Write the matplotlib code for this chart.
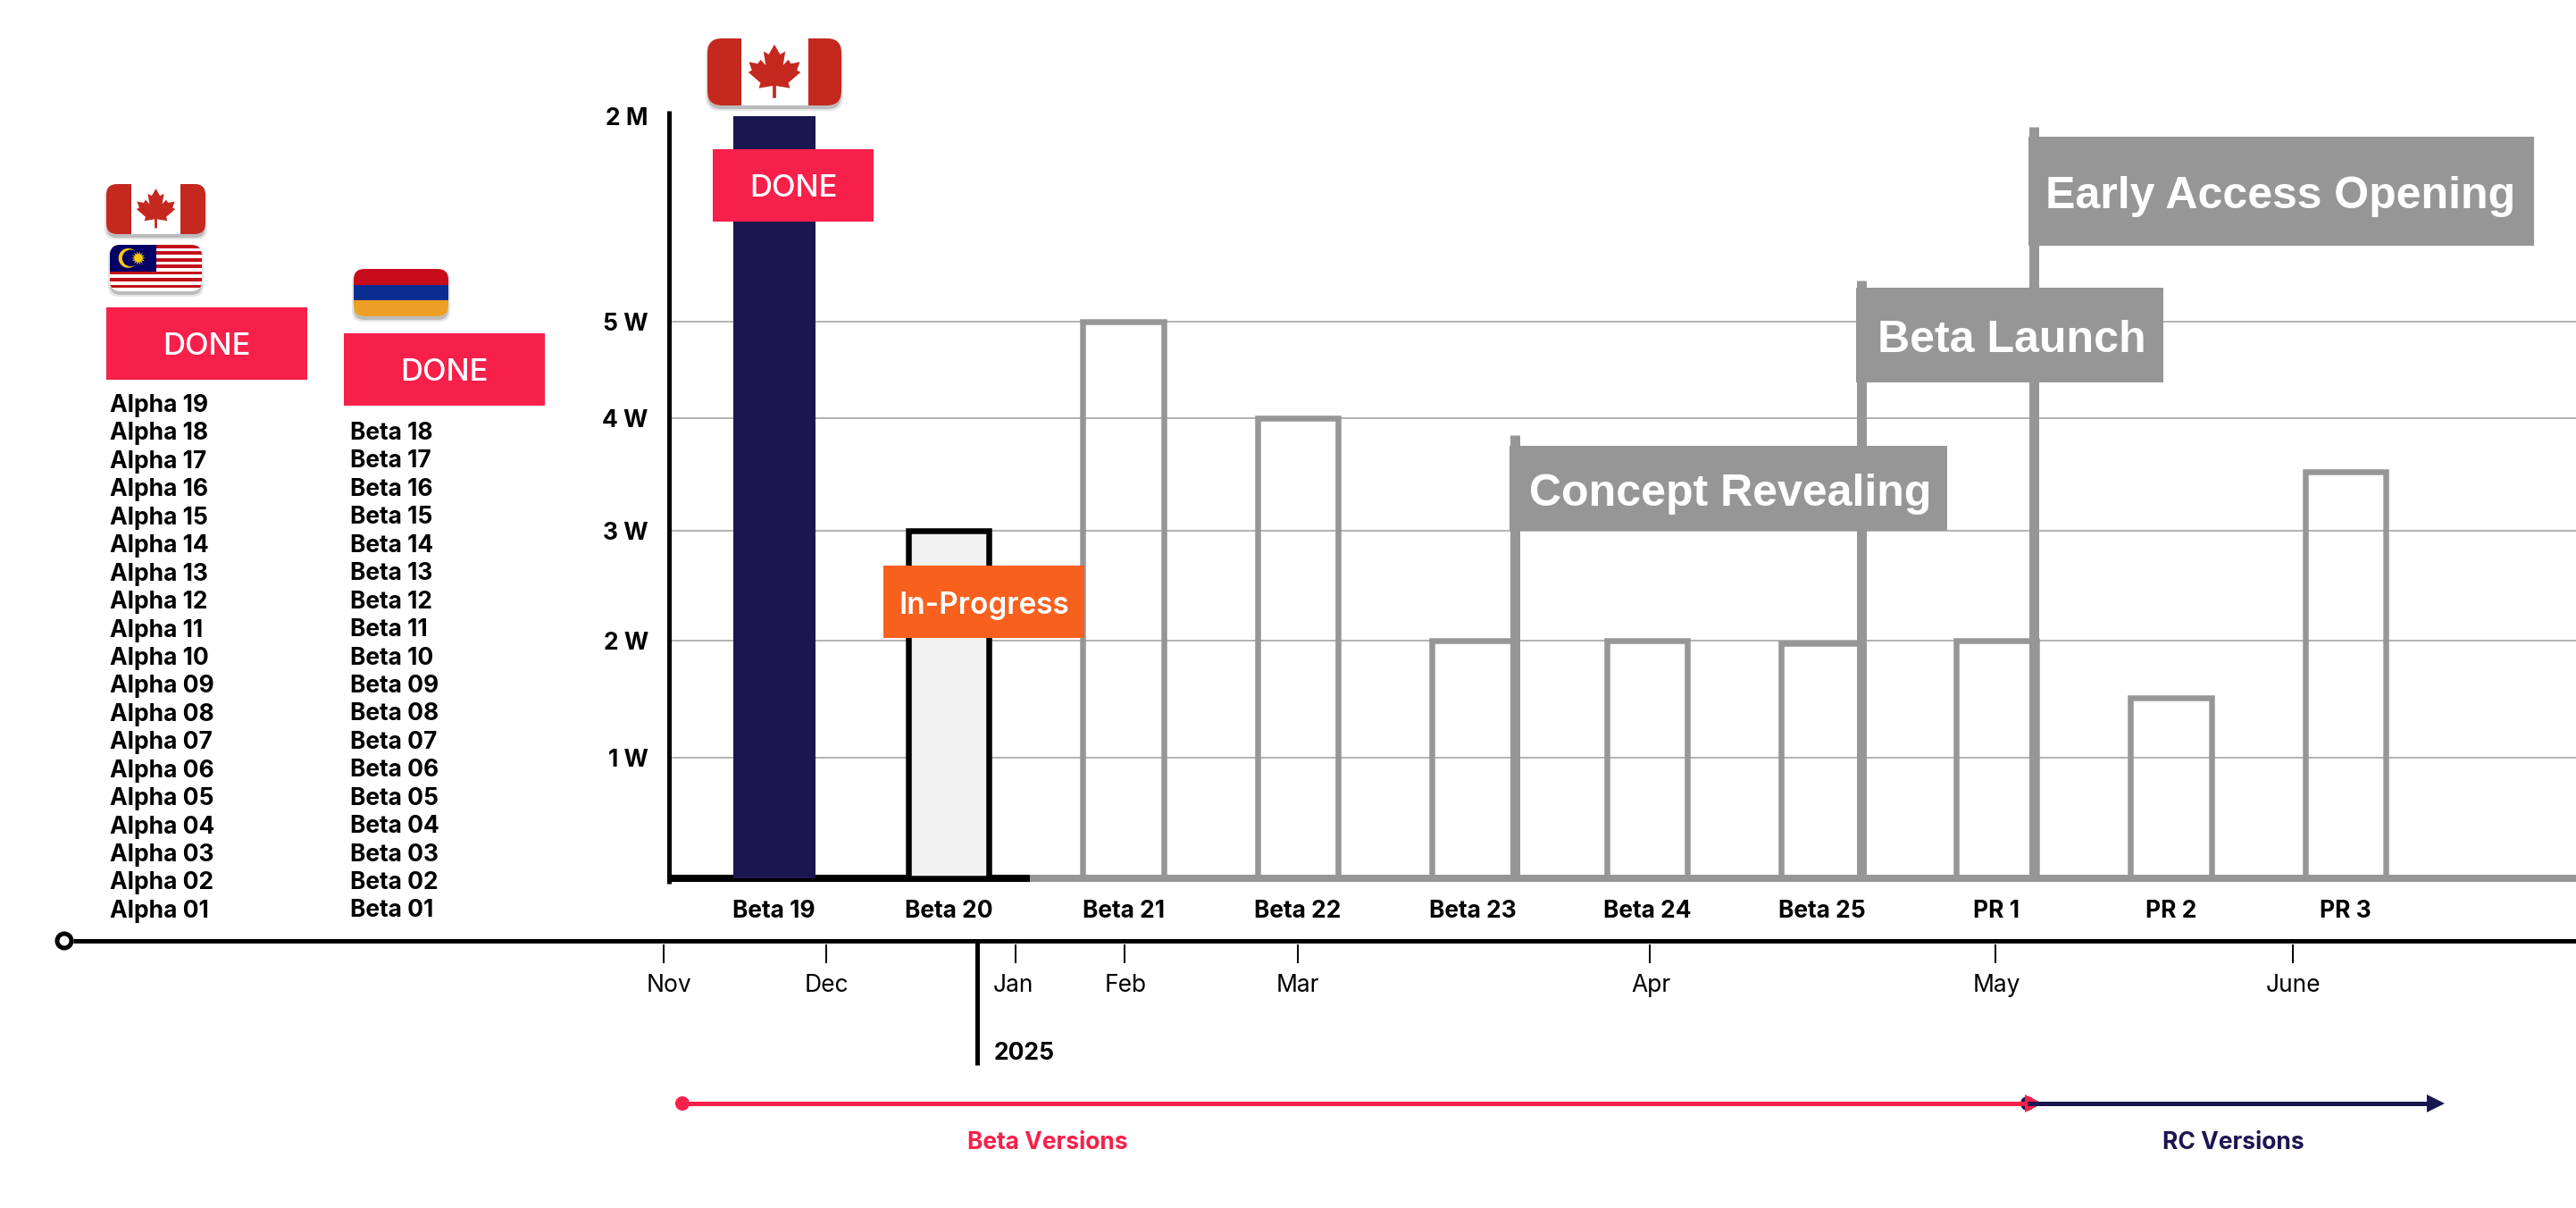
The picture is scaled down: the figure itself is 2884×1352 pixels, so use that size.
"""Release timeline: downloads per beta version with milestones."""

import matplotlib
matplotlib.use("Agg")  # non-interactive backend
import matplotlib.pyplot as plt
import numpy as np
from matplotlib.patches import Circle, FancyBboxPatch, Polygon, Rectangle

# ---------------------------------------------------------------------------
# Data
# ---------------------------------------------------------------------------

ALPHA_VERSIONS = [
    "Alpha 19", "Alpha 18", "Alpha 17", "Alpha 16", "Alpha 15", "Alpha 14", "Alpha 13",
    "Alpha 12", "Alpha 11", "Alpha 10", "Alpha 09", "Alpha 08", "Alpha 07", "Alpha 06",
    "Alpha 05", "Alpha 04", "Alpha 03", "Alpha 02", "Alpha 01",
]
BETA_VERSIONS = [
    "Beta 18", "Beta 17", "Beta 16", "Beta 15", "Beta 14", "Beta 13", "Beta 12", "Beta 11",
    "Beta 10", "Beta 09", "Beta 08", "Beta 07", "Beta 06", "Beta 05", "Beta 04", "Beta 03",
    "Beta 02", "Beta 01",
]
RELEASES = ["Beta 19", "Beta 20", "Beta 21", "Beta 22", "Beta 23", "Beta 24", "Beta 25",
            "PR 1", "PR 2", "PR 3"]
DOWNLOADS = [2000000, 30000, 50000, 40000, 20000, 20000, 19800, 20000, 15100, 35200]

Y_TICKS = [10000, 20000, 30000, 40000, 50000, 2000000]
Y_TICK_LABELS = ["1 W", "2 W", "3 W", "4 W", "5 W", "2 M"]

MONTHS = ["Nov", "Dec", "Jan", "Feb", "Mar", "Apr", "May", "June"]
MILESTONES = ["Concept Revealing", "Beta Launch", "Early Access Opening"]

# ---------------------------------------------------------------------------
# Layout and colours
# ---------------------------------------------------------------------------

W, H = 2884, 1352
DPI = 100
PT = 72 / DPI  # one pixel in points

BASE_Y = 983
AXIS_TOP = 124
Y_KNOTS_VALUE = [0] + Y_TICKS + [2100000]
Y_KNOTS_PX = [983, 848, 717, 594, 468, 360, 130, 124]

FIRST_BAR_X = 866.5
BAR_STEP = 195.5
BAR_W = 90.5

MONTH_TICK_X = [743, 925, 1137, 1259, 1453, 1847, 2234, 2567]
MONTH_LABEL_X = [749, 925, 1134, 1260, 1453, 1848, 2235, 2568]

POLE_X = [1695.5, 2084, 2276.5]
POLE_TOP = [487, 314, 142]
MILESTONE_BOX = [(1690, 499, 2180, 594), (2078, 322, 2422, 428), (2271, 153, 2837, 275)]
MILESTONE_TEXT_X = [1937, 2252, 2553]

RED = "#F6204A"
NAVY = "#1A1650"
ORANGE = "#F8601E"
GRAY = "#969696"
GRID = "#B4B4B4"
LIGHT = "#F2F2F2"
CANADA = "#C4281F"
FONT = "Inter"


# ---------------------------------------------------------------------------
# Flags
# ---------------------------------------------------------------------------

def flag_frame(ov, x0, y0, x1, y1, radius):
    """Draw shadow and return the rounded patch the flag parts are clipped to."""
    for grow, alpha in ((2, 0.10), (0, 0.18)):
        ov.add_patch(FancyBboxPatch((x0 + radius - grow, y0 + radius + 4 - grow),
                                    x1 - x0 - 2 * radius + 2 * grow, y1 - y0 - 2 * radius + 2 * grow,
                                    boxstyle=f"round,pad={radius}", fc="black", ec="none", alpha=alpha))
    frame = FancyBboxPatch((x0 + radius, y0 + radius), x1 - x0 - 2 * radius, y1 - y0 - 2 * radius,
                           boxstyle=f"round,pad={radius}", fc="white", ec="none")
    ov.add_patch(frame)
    return frame


def clipped(ov, patch, frame):
    ov.add_patch(patch)
    patch.set_clip_path(frame)


def draw_canada(ov, x0, y0, x1, y1, radius):
    frame = flag_frame(ov, x0, y0, x1, y1, radius)
    w, h = x1 - x0, y1 - y0
    clipped(ov, Rectangle((x0, y0), w * 0.25, h, fc=CANADA, ec="none"), frame)
    clipped(ov, Rectangle((x1 - w * 0.25, y0), w * 0.25, h, fc=CANADA, ec="none"), frame)
    half = [(0, 1.0), (.17, .70), (.33, .79), (.26, .37), (.42, .54), (.50, .42), (.77, .47),
            (.68, .22), (.79, .16), (.42, -.16), (.47, -.32), (.05, -.25), (.05, -.62)]
    pts = half + [(-px, py) for px, py in reversed(half[1:])]
    s = w * 0.247
    cx, cy = (x0 + x1) / 2, y0 + h * 0.09 + s
    ov.add_patch(Polygon([(cx + px * s, cy - py * s) for px, py in pts], closed=True, fc=CANADA, ec="none"))


def draw_malaysia(ov, x0, y0, x1, y1, radius):
    frame = flag_frame(ov, x0, y0, x1, y1, radius)
    w, h = x1 - x0, y1 - y0
    stripe = h / 14
    for i in range(0, 14, 2):
        clipped(ov, Rectangle((x0, y0 + i * stripe), w, stripe, fc="#C4101A", ec="none"), frame)
    clipped(ov, Rectangle((x0, y0), w / 2, stripe * 8, fc="#010066", ec="none"), frame)
    cx, cy = x0 + w * 0.20, y0 + stripe * 4
    ov.add_patch(Circle((cx, cy), h * 0.21, fc="#FFCC00", ec="none"))
    ov.add_patch(Circle((cx + h * 0.05, cy), h * 0.18, fc="#010066", ec="none"))
    angles = np.linspace(0, 2 * np.pi, 28, endpoint=False)
    radii = np.where(np.arange(28) % 2 == 0, h * 0.15, h * 0.08)
    sx, sy = x0 + w * 0.31, cy
    ov.add_patch(Polygon(np.c_[sx + radii * np.cos(angles), sy + radii * np.sin(angles)],
                         closed=True, fc="#FFCC00", ec="none"))


def draw_armenia(ov, x0, y0, x1, y1, radius):
    frame = flag_frame(ov, x0, y0, x1, y1, radius)
    h = (y1 - y0) / 3
    for i, colour in enumerate(("#C90C1C", "#0B2D92", "#EC9F24")):
        clipped(ov, Rectangle((x0, y0 + i * h), x1 - x0, h, fc=colour, ec="none"), frame)


# ---------------------------------------------------------------------------
# Overlay pieces
# ---------------------------------------------------------------------------

def label_box(ov, x0, y0, x1, y1, text, colour, size, weight="medium", family=FONT, tx=None, dy=0):
    ov.add_patch(Rectangle((x0, y0), x1 - x0, y1 - y0, fc=colour, ec="none"))
    ov.text((x0 + x1) / 2 if tx is None else tx, (y0 + y1) / 2 + dy, text, color="white", fontsize=size,
            fontweight=weight, family=family, ha="center", va="center_baseline")


def hline(ov, x0, x1, y, colour, width):
    ov.plot([x0, x1], [y, y], color=colour, lw=width * PT, solid_capstyle="butt")


def vline(ov, x, y0, y1, colour, width):
    ov.plot([x, x], [y0, y1], color=colour, lw=width * PT, solid_capstyle="butt")


# ---------------------------------------------------------------------------
# Main
# ---------------------------------------------------------------------------

def main():
    fig = plt.figure(figsize=(W / DPI, H / DPI), dpi=DPI)

    # bar chart, y axis is piecewise (the 2 M bar is squeezed in)
    ax = fig.add_axes([748 / W, 1 - BASE_Y / H, (W - 748) / W, (BASE_Y - AXIS_TOP) / H])
    heights = [BASE_Y - p for p in Y_KNOTS_PX]
    ax.set_yscale("function", functions=(
        lambda v: np.interp(v, Y_KNOTS_VALUE, heights),
        lambda p: np.interp(p, heights, Y_KNOTS_VALUE),
    ))
    ax.set_ylim(0, Y_KNOTS_VALUE[-1])
    ax.set_xlim((748 - FIRST_BAR_X) / BAR_STEP, (W - FIRST_BAR_X) / BAR_STEP)
    for side in ax.spines:
        ax.spines[side].set_visible(False)
    ax.patch.set_alpha(0)

    pos = np.arange(len(RELEASES))
    ax.hlines(Y_TICKS[:-1], ax.get_xlim()[0], ax.get_xlim()[1], color=GRID, lw=2 * PT, zorder=1)

    # baseline, black up to the in-progress release
    split = (1153 - FIRST_BAR_X) / BAR_STEP
    ax.plot([ax.get_xlim()[0], split], [0, 0], color="black", lw=8 * PT, solid_capstyle="butt",
            clip_on=False, zorder=2)
    ax.plot([split, ax.get_xlim()[1]], [0, 0], color=GRAY, lw=8 * PT, solid_capstyle="butt",
            clip_on=False, zorder=2)

    bar_w = BAR_W / BAR_STEP
    ax.bar(pos[0], DOWNLOADS[0], width=92 / BAR_STEP, color=NAVY, zorder=3)
    ax.bar(pos[1], DOWNLOADS[1], width=bar_w, facecolor=LIGHT, edgecolor="black", linewidth=6.5 * PT, zorder=3)
    ax.bar(pos[2:], DOWNLOADS[2:], width=bar_w, facecolor="none", edgecolor=GRAY, linewidth=6.5 * PT, zorder=3)

    ax.set_xticks(pos, RELEASES, fontsize=19, fontweight="bold", family=FONT)
    ax.set_yticks(Y_TICKS, Y_TICK_LABELS, fontsize=19, fontweight="bold", family=FONT)
    ax.minorticks_off()
    ax.tick_params(axis="both", length=0)
    ax.tick_params(axis="x", pad=17.5)
    ax.tick_params(axis="y", pad=16)

    # everything else sits on a pixel overlay
    ov = fig.add_axes([0, 0, 1, 1], zorder=5)
    ov.set_xlim(0, W)
    ov.set_ylim(H, 0)
    ov.axis("off")

    vline(ov, 748.5, AXIS_TOP, 989, "black", 5)

    # milestone flags
    for pole_x, pole_top in zip(POLE_X, POLE_TOP):
        vline(ov, pole_x, pole_top, BASE_Y, GRAY, 11)
    for name, box, tx in zip(MILESTONES, MILESTONE_BOX, MILESTONE_TEXT_X):
        label_box(ov, *box, name, GRAY, 36, weight="bold", family="Liberation Sans", tx=tx, dy=1)

    label_box(ov, 798, 167, 978, 248, "DONE", RED, 25)
    label_box(ov, 119, 344, 344, 425, "DONE", RED, 25)
    label_box(ov, 385, 373, 610, 454, "DONE", RED, 25)
    label_box(ov, 989, 633, 1214, 714, "In-Progress", ORANGE, 24, weight="semibold", dy=1)

    draw_canada(ov, 792, 43, 942, 118, 16)
    draw_canada(ov, 119, 206, 230, 262, 12)
    draw_malaysia(ov, 123, 274, 226, 326, 12)
    draw_armenia(ov, 396, 301, 502, 354, 12)

    # version lists
    for i, name in enumerate(ALPHA_VERSIONS):
        ov.text(123, 451 + i * 31.44, name, fontsize=19, fontweight="bold", family=FONT,
                ha="left", va="center_baseline")
    for i, name in enumerate(BETA_VERSIONS):
        ov.text(392, 482 + i * 31.44, name, fontsize=19, fontweight="bold", family=FONT,
                ha="left", va="center_baseline")

    # timeline
    hline(ov, 82, W, 1053, "black", 5)
    ov.add_patch(Circle((72, 1053), 8, fc="white", ec="black", lw=5 * PT))
    for name, tick_x, label_x in zip(MONTHS, MONTH_TICK_X, MONTH_LABEL_X):
        vline(ov, tick_x, 1057, 1078, "black", 2)
        ov.text(label_x, 1100, name, fontsize=19, family=FONT, ha="center", va="center_baseline")
    vline(ov, 1094, 1055, 1192, "black", 5)
    ov.text(1113, 1176, "2025", fontsize=19, fontweight="bold", family=FONT, ha="left",
            va="center_baseline")

    # version ranges
    hline(ov, 2268, 2720, 1235, NAVY, 5)
    ov.add_patch(Circle((2270, 1235), 8, fc=NAVY, ec="none"))
    ov.add_patch(Polygon([(2717, 1225), (2737, 1235), (2717, 1245)], closed=True, fc=NAVY, ec="none"))
    hline(ov, 764, 2270, 1235, RED, 5)
    ov.add_patch(Circle((764, 1235), 8, fc=RED, ec="none"))
    ov.add_patch(Polygon([(2267, 1225), (2287, 1235), (2267, 1245)], closed=True, fc=RED, ec="none"))
    ov.text(1173, 1276, "Beta Versions", color=RED, fontsize=19, fontweight="bold", family=FONT,
            ha="center", va="center_baseline")
    ov.text(2500, 1276, "RC Versions", color=NAVY, fontsize=19, fontweight="bold", family=FONT,
            ha="center", va="center_baseline")

    fig.savefig("out.png", dpi=DPI)
    plt.close(fig)


if __name__ == "__main__":
    main()
